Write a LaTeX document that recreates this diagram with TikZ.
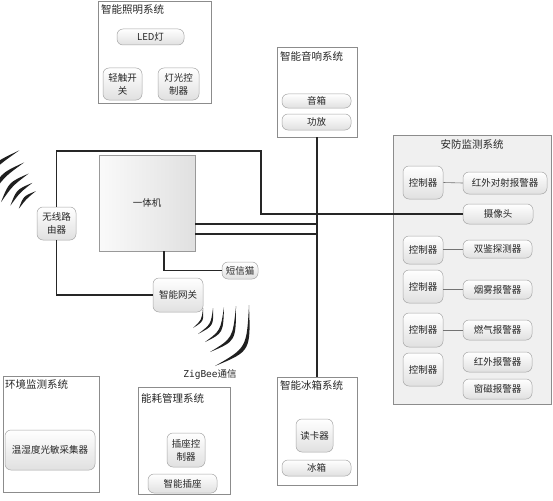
\documentclass[tikz,border=0pt]{standalone}
\usepackage{fontspec}
\setmainfont{Noto Sans CJK SC}
\newfontfamily\zbmono{DejaVu Sans Mono}
\usetikzlibrary{calc}
\tikzset{
  sysbox/.style={draw=black!45, line width=0.7pt, fill=white, inner sep=0pt},
  secbox/.style={sysbox, fill=black!6},
  ttl/.style={anchor=west, font=\fontsize{10.5}{12}\selectfont, inner sep=0pt, text=black!85},
  item/.style={draw=black!35, line width=0.5pt, rounded corners=6pt, top color=white, bottom color=black!12,
    align=center, font=\fontsize{9.5}{13}\selectfont, inner sep=0pt, text=black!85},
  pcbox/.style={draw=black!40, line width=0.6pt, left color=black!2, right color=black!12,
    font=\fontsize{9.5}{13}\selectfont, inner sep=0pt, text=black!85},
  wire/.style={draw=black!85, line width=1.1pt},
  thinwire/.style={draw=black!55, line width=0.6pt},
}
\newcommand\boxat[7]{%
  \node[#1, minimum width={#5-#3}, minimum height={#6-#4}] (#2) at ({(#3+#5)/2},{(#4+#6)/2}) {#7};}
% crescent: x1 y1 x2 y2 mx my thickness
\newcommand\crescent[7]{%
  \pgfmathsetmacro\cax{(#1+#3)/2}%
  \pgfmathsetmacro\cay{(#2+#4)/2}%
  \pgfmathsetmacro\chh{sqrt((#5-\cax)^2+(#6-\cay)^2)}%
  \pgfmathsetmacro\cux{(#5-\cax)/\chh}%
  \pgfmathsetmacro\cuy{(#6-\cay)/\chh}%
  \pgfmathsetmacro\cqx{(#5+0.5*#7*\cux-0.125*(#1+#3))/0.75}%
  \pgfmathsetmacro\cqy{(#6+0.5*#7*\cuy-0.125*(#2+#4))/0.75}%
  \pgfmathsetmacro\cpx{(#5-0.5*#7*\cux-0.125*(#1+#3))/0.75}%
  \pgfmathsetmacro\cpy{(#6-0.5*#7*\cuy-0.125*(#2+#4))/0.75}%
  \fill[black!88] (#1,#2) .. controls (\cqx,\cqy) .. (#3,#4) .. controls (\cpx,\cpy) .. (#1,#2) -- cycle;}
% arc crescent: cx cy r a1 a2 thickness
\newcommand\wavearc[6]{%
  \pgfmathsetmacro\wxa{#1+#3*cos(#4)}%
  \pgfmathsetmacro\wya{#2-#3*sin(#4)}%
  \pgfmathsetmacro\wxb{#1+#3*cos(#5)}%
  \pgfmathsetmacro\wyb{#2-#3*sin(#5)}%
  \pgfmathsetmacro\wmx{#1+#3*cos((#4+#5)/2)}%
  \pgfmathsetmacro\wmy{#2-#3*sin((#4+#5)/2)}%
  \crescent{\wxa}{\wya}{\wxb}{\wyb}{\wmx}{\wmy}{#6}}
\begin{document}
\begin{tikzpicture}[x=1pt,y=-1pt]
\useasboundingbox (0,0) rectangle (553,500);

% system boxes
\boxat{sysbox}{light}{98}{1}{211}{103}{}
\boxat{sysbox}{sound}{277}{47}{357}{137}{}
\boxat{secbox}{sec}{393}{135}{551}{404}{}
\boxat{sysbox}{env}{3}{376}{99}{492}{}
\boxat{sysbox}{energy}{138}{387}{230}{494}{}
\boxat{sysbox}{fridge}{277}{377}{357}{485}{}

% titles
\node[ttl] (tlight) at (101,10) {智能照明系统};
\node[ttl] (tsound) at (280,56) {智能音响系统};
\node[ttl, anchor=center] (tsec) at (472,144) {安防监测系统};
\node[ttl] (tenv) at (5,384) {环境监测系统};
\node[ttl] (tenergy) at (141,398) {能耗管理系统};
\node[ttl] (tfridge) at (280,385) {智能冰箱系统};

% lighting
\boxat{item}{led}{117}{29}{184}{45}{LED灯}
\boxat{item}{sw}{103}{68}{142}{100}{轻触开\\关}
\boxat{item}{lctl}{158}{68}{199}{100}{灯光控\\制器}
% sound
\boxat{item}{spk}{282}{94}{351}{108}{音箱}
\boxat{item}{amp}{282}{114}{351}{130}{功放}
% central
\boxat{pcbox}{pc}{99}{155}{195}{251}{一体机}
\boxat{item}{router}{37}{207}{76}{240}{无线路\\由器}
\boxat{item}{gw}{153}{278}{203}{312}{智能网关}
\boxat{item}{sms}{222}{262}{258}{279}{短信猫}
% security
\boxat{item}{c1}{403}{166}{443}{199}{控制器}
\boxat{item}{c2}{403}{236}{443}{264}{控制器}
\boxat{item}{c3}{403}{270}{443}{303}{控制器}
\boxat{item}{c4}{403}{313}{443}{347}{控制器}
\boxat{item}{c5}{403}{353}{443}{386}{控制器}
\boxat{item}{ir}{463}{172}{547}{194}{红外对射报警器}
\boxat{item}{cam}{463}{204}{533}{224}{摄像头}
\boxat{item}{dual}{463}{240}{532}{258}{双鉴探测器}
\boxat{item}{smoke}{463}{280}{532}{299}{烟雾报警器}
\boxat{item}{gas}{463}{320}{532}{340}{燃气报警器}
\boxat{item}{iralarm}{463}{352}{532}{372}{红外报警器}
\boxat{item}{win}{463}{379}{532}{399}{窗磁报警器}
% environment
\boxat{item}{sensor}{5}{430}{95}{470}{温湿度光敏采集器}
% energy
\boxat{item}{sockctl}{167}{433}{205}{467}{插座控\\制器}
\boxat{item}{sock}{148}{474}{217}{493}{智能插座}
% fridge
\boxat{item}{card}{296}{419}{333}{452}{读卡器}
\boxat{item}{fr}{282}{460}{351}{476}{冰箱}

% security inner links
\draw[thinwire] (c1.east) -- (ir.west);
\draw[thinwire] (c2.east |- dual.west) -- (dual.west);
\draw[thinwire] (c3.east |- smoke.west) -- (smoke.west);
\draw[thinwire] (c4.east |- gas.west) -- (gas.west);

% main wiring
\coordinate (bend) at (261,151);
\draw[wire] (router.north) |- (bend) |- (cam.west);
\draw[wire] (router.south) |- (gw.west);
\draw[wire] (sound.south) -- (fridge.north);
\coordinate (p1) at ($(pc.east)+(0,21)$);
\coordinate (p2) at ($(pc.east)+(0,31)$);
\draw[wire] (p1) -- (p1 -| sound.south);
\draw[wire] (p2) -- (p2 -| sound.south);
\coordinate (p3) at ($(pc.south)+(17,0)$);
\draw[wire] (p3) |- (sms.west);

% wireless waves (router)
\begin{scope}
\clip (0,0) rectangle (553,500);
\wavearc{47}{219}{30}{112}{160}{3.0}
\wavearc{47}{219}{39}{112}{160}{3.4}
\wavearc{47}{219}{49}{112}{160}{3.8}
\wavearc{47}{219}{61}{112}{160}{4.0}
\wavearc{47}{219}{74}{112}{160}{4.2}
\end{scope}

% ZigBee waves
\crescent{203}{308}{193}{328}{201.5}{320}{1.8}
\crescent{213}{308}{198}{334}{210.5}{324}{2.3}
\crescent{224}{307}{205}{342}{220}{330}{2.8}
\crescent{236}{306}{210}{352}{231.5}{337}{3.3}
\crescent{249}{305}{215}{366}{244.5}{346}{4.0}
\node[font=\fontsize{9.5}{11}\selectfont, inner sep=0pt, text=black!85] (zb) at (210,375) {{\zbmono ZigBee}通信};
\end{tikzpicture}
\end{document}
